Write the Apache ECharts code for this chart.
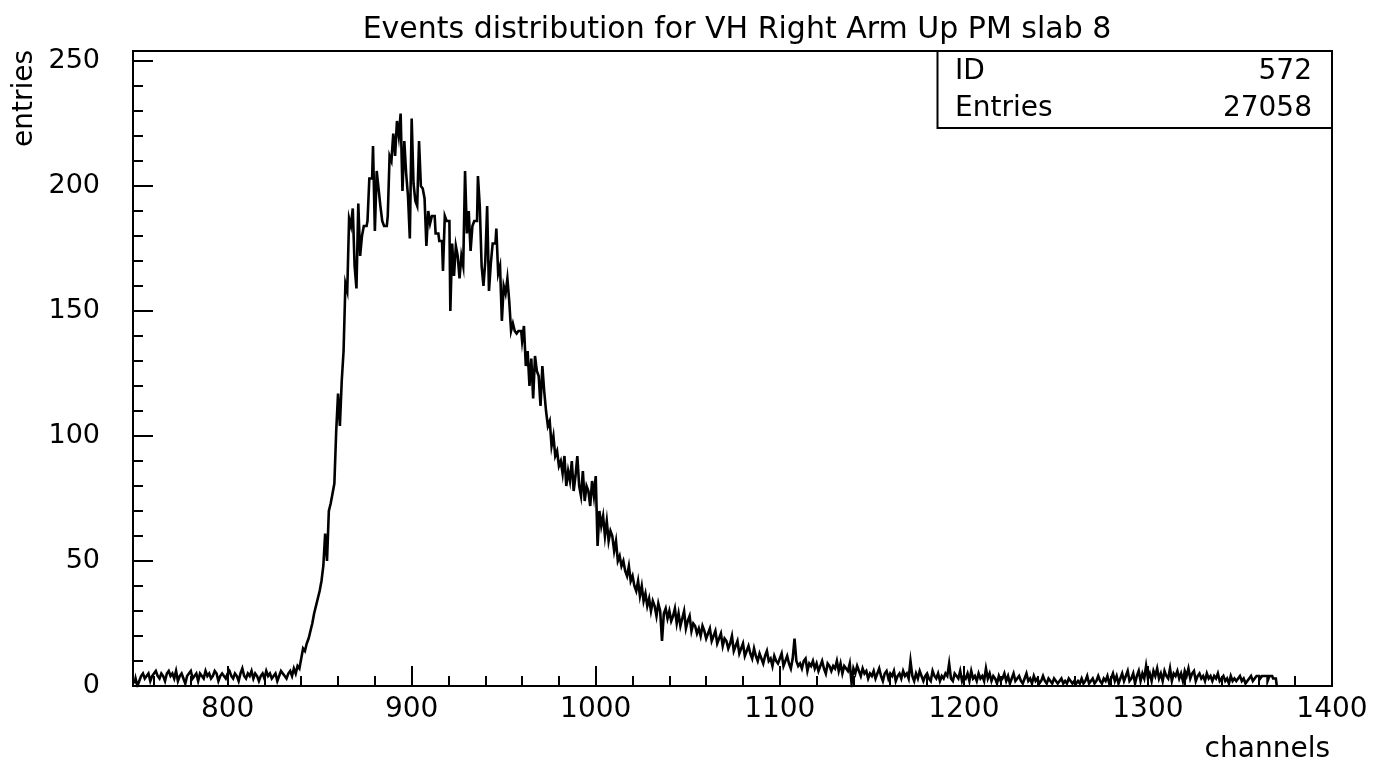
<!DOCTYPE html>
<html>
<head>
<meta charset="utf-8">
<script src="https://cdn.jsdelivr.net/npm/echarts@6/dist/echarts.min.js"></script>
<style>
html,body{margin:0;padding:0;background:#fff;}
#chart{width:1383px;height:769px;}
</style>
</head>
<body>
<div id="chart"></div>
<script>
// ---- data ----
const titleText = 'Events distribution for VH Right Arm Up PM slab 8';
const xName = 'channels';
const yName = 'entries';
const statsLabels = ['ID', 'Entries'];
const statsValues = ['572', '27058'];
const xTickLabels = [800, 900, 1000, 1100, 1200, 1300, 1400];
const xMinorTicks = [760, 780, 820, 840, 860, 880, 920, 940, 960, 980, 1020, 1040, 1060, 1080, 1120, 1140, 1160, 1180, 1220, 1240, 1260, 1280, 1320, 1340, 1360, 1380];
const yTickLabels = [0, 50, 100, 150, 200, 250];
const yMinorTicks = [10, 20, 30, 40, 60, 70, 80, 90, 110, 120, 130, 140, 160, 170, 180, 190, 210, 220, 230, 240];
const xRange = [748.6, 1400];
const yRange = [0, 254];
const firstChannel = 749; // bins are 1 channel wide

// channels 749-837
const lowCounts = [
  1,3,0,2,4,5,3,4,5,2,
  4,5,6,4,3,5,4,2,5,6,
  4,5,3,6,2,4,5,3,1,4,
  5,6,3,4,5,2,5,4,3,6,
  4,5,3,4,6,5,2,4,5,4,
  3,5,6,4,3,5,4,2,5,7,
  4,3,5,4,6,3,5,4,2,4,
  5,3,6,4,5,3,4,5,2,4,
  6,5,4,3,5,6,4,7,5
];
// channels 838-863
const riseCounts = [
  8,7,11,15,14,17,19,22,25,29,
  32,35,38,42,48,61,50,70,73,77,
  81,102,117,104,122,134
];
// channels 864-958
const peakCounts = [
  161,158,187,184,191,168,159,193,172,180,
  184,184,186,203,203,216,182,206,199,192,
  186,184,184,188,212,210,221,212,226,220,
  229,198,218,205,196,179,227,201,194,192,
  218,200,199,195,176,190,185,188,188,181,
  181,178,178,166,188,186,186,150,177,164,
  176,172,163,172,168,206,181,190,174,184,
  186,186,204,192,168,160,170,192,158,169,
  177,177,183,165,168,146,160,157,163,154,
  142,145,142,141,142
];
// channels 959-1108
const tailCounts = [
  142,138,144,128,134,120,131,115,132,126,
  124,112,128,118,110,104,106,96,100,92,
  94,88,90,85,92,80,86,82,90,78,
  84,92,80,76,86,74,80,78,72,82,
  76,84,56,70,64,68,60,66,58,62,
  60,54,58,50,52,48,50,46,44,48,
  42,44,40,38,42,36,40,34,37,32,
  35,30,34,32,28,33,30,18,29,31,
  27,30,26,28,31,25,29,24,27,30,
  23,26,28,22,25,24,21,23,20,24,
  22,19,21,23,18,20,22,17,19,21,
  16,19,18,15,17,20,14,16,18,13,
  15,17,12,14,16,13,11,15,12,10,
  13,11,9,12,14,10,11,8,12,10,
  9,11,13,8,10,12,9,7,11,19
];
// channels 1109-1369
const flatCounts = [
  10,8,9,7,10,11,6,9,8,10,
  7,9,6,8,10,7,5,9,8,6,
  8,7,10,6,9,5,8,7,6,9,
  1,7,5,8,6,4,7,5,6,3,
  5,4,6,3,5,7,4,2,5,6,
  3,5,4,6,2,4,5,3,6,4,
  5,3,10,4,2,5,3,6,4,2,
  4,5,3,2,6,4,3,5,2,4,
  3,5,4,9,3,2,5,4,3,6,
  2,4,3,5,2,6,3,4,2,5,
  3,4,2,7,3,5,2,4,3,1,
  4,2,3,5,2,4,1,3,5,2,
  3,4,2,1,3,5,2,3,1,4,
  2,3,1,2,4,2,1,3,2,1,
  3,2,1,2,3,1,2,1,3,2,
  1,2,1,2,1,3,1,2,4,1,
  2,3,1,2,4,2,1,3,2,4,
  1,3,5,2,4,1,3,5,2,4,
  6,2,3,5,1,4,6,2,5,3,
  8,3,5,2,6,4,7,3,5,2,
  6,4,3,7,2,5,4,6,3,5,
  2,6,4,7,3,5,6,2,4,5,
  3,4,2,5,3,4,2,4,3,5,
  2,3,4,2,3,1,4,2,3,2,
  3,4,2,3,1,2,3,4,2,3,
  4,4,3,4,4,4,2,4,4,3,3
];

// ---- build ----
const counts = [].concat(lowCounts, riseCounts, peakCounts, tailCounts, flatCounts);
const points = counts.map((v, i) => [firstChannel + i + 0.5, v]);
points.push([firstChannel + counts.length + 0.5, 0]);

const FONT = 'DejaVu Sans';
const chart = echarts.init(document.getElementById('chart'), null, {renderer: 'canvas'});

const gridL = 133, gridR = 51, gridT = 51, gridB = 83;
const plain = v => String(v);

chart.setOption({
  animation: false,
  backgroundColor: '#fff',
  title: {
    text: titleText,
    left: 732, top: 10,
    textAlign: 'center',
    textStyle: {fontFamily: FONT, fontSize: 30, fontWeight: 'normal', color: '#000'}
  },
  grid: {
    left: gridL, right: gridR, top: gridT, bottom: gridB,
    show: true, borderColor: '#000', borderWidth: 2, backgroundColor: 'transparent'
  },
  xAxis: [
    {
      type: 'value', min: xRange[0], max: xRange[1], position: 'bottom',
      axisLine: {show: true, lineStyle: {color: '#000', width: 2}},
      axisTick: {show: true, inside: true, length: 20, customValues: xTickLabels, lineStyle: {color: '#000', width: 2}},
      axisLabel: {show: true, customValues: xTickLabels, formatter: plain, margin: 10, fontFamily: FONT, fontSize: 28, color: '#000'},
      splitLine: {show: false}
    },
    {
      type: 'value', min: xRange[0], max: xRange[1], position: 'bottom',
      axisLine: {show: false},
      axisTick: {show: true, inside: true, length: 10, customValues: xMinorTicks, lineStyle: {color: '#000', width: 2}},
      axisLabel: {show: false},
      splitLine: {show: false}
    }
  ],
  yAxis: [
    {
      type: 'value', min: yRange[0], max: yRange[1], position: 'left',
      axisLine: {show: true, lineStyle: {color: '#000', width: 2}},
      axisTick: {show: true, inside: true, length: 20, customValues: yTickLabels, lineStyle: {color: '#000', width: 2}},
      axisLabel: {show: true, customValues: yTickLabels, formatter: plain, margin: 33, fontFamily: FONT, fontSize: 27, color: '#000'},
      splitLine: {show: false}
    },
    {
      type: 'value', min: yRange[0], max: yRange[1], position: 'left',
      axisLine: {show: false},
      axisTick: {show: true, inside: true, length: 10, customValues: yMinorTicks, lineStyle: {color: '#000', width: 2}},
      axisLabel: {show: false},
      splitLine: {show: false}
    }
  ],
  series: [{
    type: 'line',
    xAxisIndex: 0, yAxisIndex: 0,
    step: 'middle',
    data: points,
    showSymbol: false,
    symbol: 'none',
    lineStyle: {color: '#000', width: 2.6, join: 'miter', cap: 'butt'},
    silent: true
  }],
  graphic: [
    {
      type: 'text', x: 25, y: 50, rotation: Math.PI / 2,
      style: {text: yName, font: '28px "DejaVu Sans"', fill: '#000', textAlign: 'right', textVerticalAlign: 'middle'}
    },
    {
      type: 'text', x: 1330, y: 750,
      style: {text: xName, font: '28px "DejaVu Sans"', fill: '#000', textAlign: 'right', textVerticalAlign: 'middle'}
    },
    {
      type: 'rect', shape: {x: 937.5, y: 51, width: 394.5, height: 77},
      style: {fill: '#fff', stroke: '#000', lineWidth: 2}, z: 100
    },
    {
      type: 'text', x: 955, y: 72, z: 101,
      style: {text: statsLabels[0], font: '28px "DejaVu Sans"', fill: '#000', textAlign: 'left', textVerticalAlign: 'middle'}
    },
    {
      type: 'text', x: 1312, y: 72, z: 101,
      style: {text: statsValues[0], font: '28px "DejaVu Sans"', fill: '#000', textAlign: 'right', textVerticalAlign: 'middle'}
    },
    {
      type: 'text', x: 955, y: 109, z: 101,
      style: {text: statsLabels[1], font: '28px "DejaVu Sans"', fill: '#000', textAlign: 'left', textVerticalAlign: 'middle'}
    },
    {
      type: 'text', x: 1312, y: 109, z: 101,
      style: {text: statsValues[1], font: '28px "DejaVu Sans"', fill: '#000', textAlign: 'right', textVerticalAlign: 'middle'}
    }
  ]
});
</script>
</body>
</html>
